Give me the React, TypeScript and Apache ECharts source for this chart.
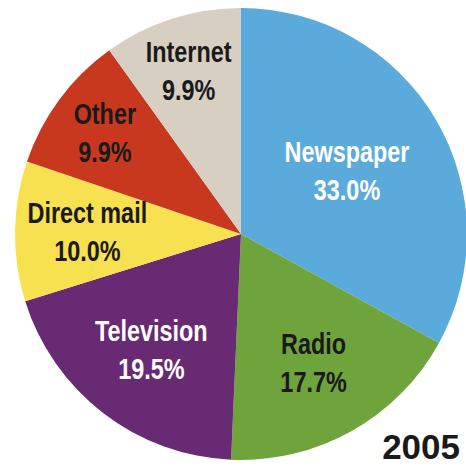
import React, { useEffect, useRef } from "react";
import * as echarts from "echarts";

const categories = ["Newspaper", "Radio", "Television", "Direct mail", "Other", "Internet"];
const shares = [33.0, 17.7, 19.5, 10.0, 9.9, 9.9];
const yearLabel = "2005";

const sliceColors = ["#5aabdc", "#6fa33c", "#682a72", "#f7e150", "#c8381f", "#d7cfc1"];
const labelColors = ["#ffffff", "#1a1a1a", "#ffffff", "#1a1a1a", "#1a1a1a", "#1a1a1a"];
// radial position of each label as a fraction of the radius
const labelRadiusFactor = [0.545, 0.655, 0.65, 0.68, 0.75, 0.757];

const CX = 241;
const CY = 234;
const R = 226;

export default function App() {
  const ref = useRef<HTMLDivElement>(null);
  useEffect(() => {
    document.body.style.margin = "0";
    const chart = echarts.init(ref.current!, null, { renderer: "svg" });
    const total = shares.reduce((a, b) => a + b, 0);
    const midAngles: number[] = [];
    let acc = 0;
    shares.forEach((v) => {
      midAngles.push(((acc + v / 2) / total) * Math.PI * 2);
      acc += v;
    });
    const labelGraphics = categories.map((name, i) => {
      const a = midAngles[i];
      const r = labelRadiusFactor[i] * R;
      return {
        type: "text",
        x: CX + r * Math.sin(a),
        y: CY - r * Math.cos(a),
        scaleX: 0.78,
        z: 100,
        zlevel: 0,
        silent: true,
        style: {
          text: `${name}\n${shares[i].toFixed(1)}%`,
          fontFamily: "Liberation Sans",
          fontWeight: "bold",
          fontSize: 30,
          lineHeight: 38,
          fill: labelColors[i],
          align: "center",
          verticalAlign: "middle",
        },
      };
    });
    chart.setOption({
      animation: false,
      backgroundColor: "#ffffff",
      series: [
        {
          type: "pie",
          z: 1,
          center: [CX, CY],
          radius: [0, R],
          startAngle: 90,
          clockwise: true,
          silent: true,
          data: categories.map((name, i) => ({
            name,
            value: shares[i],
            itemStyle: { color: sliceColors[i], borderWidth: 0 },
          })),
          label: { show: false },
          labelLine: { show: false },
        },
      ],
      graphic: {
        elements: [
          ...labelGraphics,
          {
            type: "text",
            right: 6,
            bottom: 6,
            z: 100,
            style: {
              text: yearLabel,
              fontFamily: "Liberation Sans",
              fontWeight: "bold",
              fontSize: 35,
              fill: "#1a1a1a",
            },
          },
        ],
      },
    });
    return () => chart.dispose();
  }, []);
  return <div ref={ref} style={{ width: 466, height: 470 }} />;
}
